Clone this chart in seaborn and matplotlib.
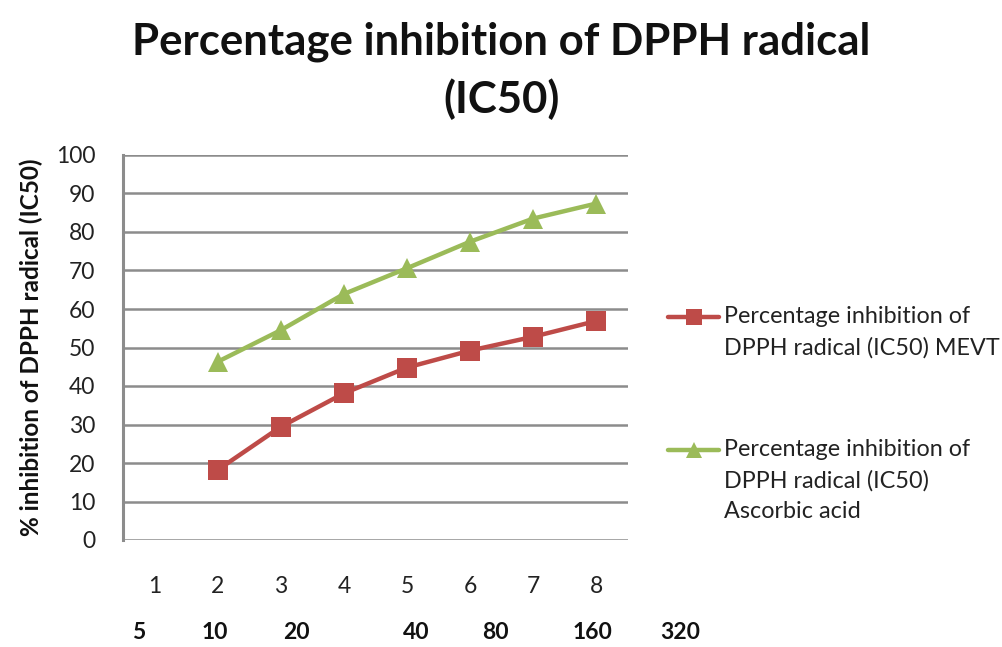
import matplotlib
matplotlib.use("Agg")
import matplotlib.pyplot as plt
import seaborn as sns
import pandas as pd
from matplotlib.lines import Line2D

# ---- data ----
categories = [1, 2, 3, 4, 5, 6, 7, 8]
x_points = [2, 3, 4, 5, 6, 7, 8]
mevt = [18.2, 29.4, 38.1, 44.8, 49.2, 52.8, 56.9]
ascorbic = [46.3, 54.5, 63.9, 70.6, 77.5, 83.5, 87.4]
conc_labels = ["5", "10", "20", "40", "80", "160", "320"]
conc_pos = [0.75, 1.95, 3.25, 5.14, 6.4, 7.94, 9.33]
series_names = ["Percentage inhibition of\nDPPH radical (IC50) MEVT",
                "Percentage inhibition of\nDPPH radical (IC50)\nAscorbic acid"]
title_lines = ["Percentage inhibition of DPPH radical", "(IC50)"]
y_ticks = [0, 10, 20, 30, 40, 50, 60, 70, 80, 90, 100]

sns.set_theme(style="white")
plt.rcParams['font.family'] = ['Lato', 'DejaVu Sans']

df = pd.DataFrame({
    "x": x_points * 2,
    "y": mevt + ascorbic,
    "series": [series_names[0]] * len(mevt) + [series_names[1]] * len(ascorbic),
})

W, H = 1003, 647
fig = plt.figure(figsize=(W / 100, H / 100), dpi=100)
fig.patch.set_facecolor("white")
ax = fig.add_axes([123 / W, (H - 540) / H, (628 - 123) / W, (540 - 155) / H])

red = "#BE4B48"
green = "#9BBB59"
grid_c = "#8C8C8C"

sns.lineplot(data=df, x="x", y="y", hue="series", style="series",
             palette={series_names[0]: red, series_names[1]: green},
             markers={series_names[0]: "s", series_names[1]: "^"},
             dashes=False, linewidth=3.2, markersize=14, markeredgewidth=0,
             ax=ax, legend=False, zorder=3)

ax.set_xlim(0.5, 8.5)
ax.set_ylim(0, 100)
ax.set_yticks(y_ticks)
ax.set_yticklabels([str(v) for v in y_ticks], fontsize=16.5, color="#222222")
ax.set_xticks(categories)
ax.set_xticklabels([str(c) for c in categories], fontsize=16.5, color="#222222")
ax.tick_params(axis="x", length=0, pad=26)
ax.tick_params(axis="y", length=6, width=1.6, color=grid_c, direction="out", pad=14)
ax.yaxis.grid(True, color=grid_c, linewidth=1.8)
ax.set_axisbelow(True)
ax.xaxis.grid(False)
for s in ["top", "right", "bottom"]:
    ax.spines[s].set_visible(False)
ax.spines["left"].set_color(grid_c)
ax.spines["left"].set_linewidth(2.2)
ax.set_xlabel("")
ax.set_ylabel("% inhibition of DPPH radical (IC50)", fontsize=17.5, fontweight="bold",
              labelpad=9, color="#111111")

# concentration row
for lab, p in zip(conc_labels, conc_pos):
    ax.text(p, -0.24, lab, transform=ax.get_xaxis_transform(), ha="center", va="center",
            fontsize=16.5, fontweight="bold", color="#111111", clip_on=False)

for line, base in zip(title_lines, [54, 113]):
    fig.text(0.5, 1 - base / H, line, ha="center", va="baseline",
             fontsize=31.5, fontweight="bold", color="#111111")

# legend: one legend per series, handle aligned with the first text line
handle_specs = [(red, "s", 317), (green, "^", 450)]
for (col, mk, ypix), name in zip(handle_specs, series_names):
    n_extra = name.count("\n")
    label = "\n" * n_extra + name
    h = Line2D([], [], color=col, lw=3.2, marker=mk, markersize=12, markeredgewidth=0)
    leg = fig.legend([h], [label], loc="center left", bbox_to_anchor=(668 / W, 1 - ypix / H),
                     frameon=False, fontsize=16.8, handlelength=2.2, handletextpad=0.2,
                     borderaxespad=0, borderpad=0)
    for t in leg.get_texts():
        t.set_linespacing(1.55)
        t.set_color("#222222")

fig.savefig("out.png", dpi=100)
